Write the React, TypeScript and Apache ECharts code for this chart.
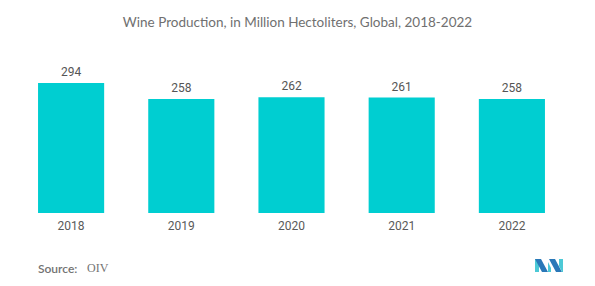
import React, { useEffect, useRef } from "react";
import * as echarts from "echarts";

const categories = ["2018", "2019", "2020", "2021", "2022"];
const production = [294, 258, 262, 261, 258];
const titleText = "Wine Production, in Million Hectoliters, Global, 2018-2022";
const sourceLabel = "Source:";
const sourceName = "OIV";

export default function App() {
  const ref = useRef<HTMLDivElement>(null);
  useEffect(() => {
    if (!ref.current) return;
    const chart = echarts.init(ref.current, null, { renderer: "svg" });
    chart.setOption({
      animation: false,
      backgroundColor: "#ffffff",
      title: {
        text: titleText,
        left: "center",
        top: 10,
        textStyle: {
          fontFamily: "Lato",
          fontSize: 13.5,
          fontWeight: "normal",
          color: "#707070",
        },
      },
      grid: { left: 16, right: 28, top: 83, height: 130, containLabel: false },
      xAxis: {
        type: "category",
        data: categories,
        axisLine: { show: false },
        axisTick: { show: false },
        axisLabel: {
          margin: 7,
          fontFamily: "Roboto",
          fontSize: 12,
          color: "#5a5a5a",
        },
      },
      yAxis: {
        type: "value",
        min: 0,
        max: 294,
        show: false,
        splitLine: { show: false },
      },
      series: [
        {
          type: "bar",
          data: production,
          barWidth: "60%",
          itemStyle: { color: "#00ced1" },
          label: {
            show: true,
            position: "top",
            distance: 5,
            fontFamily: "Roboto",
            fontSize: 12,
            color: "#555555",
          },
        },
      ],
      graphic: [
        {
          type: "text",
          left: 38,
          top: 262,
          style: {
            text: sourceLabel,
            fontFamily: "Lato",
            fontSize: 12,
            fontWeight: 600,
            fill: "#737373",
          },
        },
        {
          type: "text",
          left: 87,
          top: 262,
          style: {
            text: sourceName,
            fontFamily: "Liberation Serif",
            fontSize: 12,
            fill: "#737373",
          },
        },
        {
          type: "group",
          left: 535,
          top: 259,
          children: [
            { type: "polygon", shape: { points: [[0, 0], [4, 0], [4, 13], [0, 13]] }, style: { fill: "#4cc9d6" } },
            { type: "polygon", shape: { points: [[0, 0], [6, 0], [13, 13], [7, 13]] }, style: { fill: "#2a78b8" } },
            { type: "polygon", shape: { points: [[13, 3], [16, 9], [16, 13], [13, 13]] }, style: { fill: "#4cc9d6" } },
            { type: "polygon", shape: { points: [[14, 0], [20, 0], [27, 13], [21, 13]] }, style: { fill: "#2a78b8" } },
            { type: "polygon", shape: { points: [[24, 0], [28, 0], [28, 13], [27, 13], [24, 7]] }, style: { fill: "#4cc9d6" } },
          ],
        },
      ],
    });
    return () => chart.dispose();
  }, []);
  return (
    <div
      ref={ref}
      style={{ position: "fixed", left: 0, top: 0, width: 595, height: 286 }}
    />
  );
}
